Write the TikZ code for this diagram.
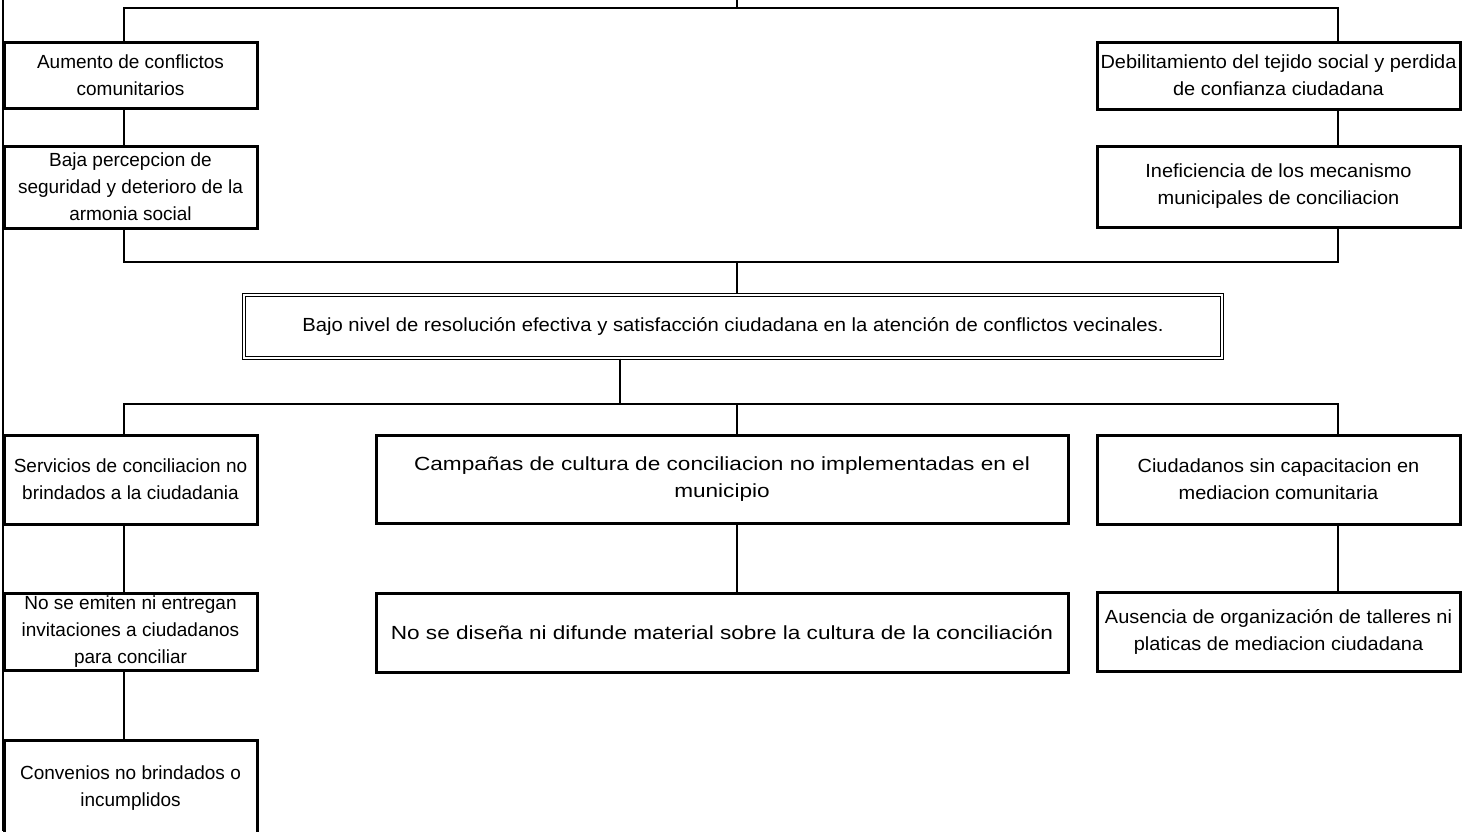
\documentclass[tikz,border=0pt]{standalone}
\usepackage{fontspec}
\setmainfont{Liberation Sans}
\newfontfamily\rightfont[FakeStretch=1.05]{Liberation Sans}
\newfontfamily\mainfont[FakeStretch=1.066]{Liberation Sans}
\newfontfamily\widefont[FakeStretch=1.19]{Liberation Sans}
\usepackage{tikz}
\usetikzlibrary{shadows,positioning}

\begin{document}
\begin{tikzpicture}[x=1pt,y=-1pt,line width=1.6pt]
            \tikzstyle{box}=[rectangle,draw,line width=3pt,fill=white,inner sep=0pt,align=center,
                drop shadow={shadow xshift=1.4pt,shadow yshift=-1.4pt,fill=black,opacity=1},
                font=\fontsize{19}{27}\selectfont]
            \tikzstyle{rbox}=[box,minimum width=363pt,font=\rightfont\fontsize{19}{27}\selectfont]
            \tikzstyle{wbox}=[box,minimum width=692pt,font=\widefont\fontsize{19}{27}\selectfont]
            \tikzstyle{problem}=[rectangle,draw,double,double distance=2pt,line width=1.3pt,fill=white,
                inner sep=0pt,align=center,font=\mainfont\fontsize{19}{27}\selectfont]
            \clip (0,0) rectangle (1472,831);
            % columns and buses
            \coordinate (colL) at (124,0);
            \coordinate (colM) at (737,0);
            \coordinate (colR) at (1338,0);
            \coordinate (top) at (737,0);
            \coordinate (busA) at (737,8);
            \coordinate (busB) at (737,262);
            \coordinate (busC) at (620,404);
            \coordinate (edgeT) at (3,0);
            \coordinate (edgeB) at (3,831);
            \draw (edgeT) -- (edgeB);
            % effects
            \node[box,minimum width=253pt,minimum height=66pt](aum) at (130.5,75)
                {Aumento de conflictos\\comunitarios};
            \node[box,minimum width=253pt,minimum height=82pt](baja) at (130.5,187)
                {Baja percepcion de\\seguridad y deterioro de la\\armonia social};
            \node[rbox,minimum height=67pt](debil) at (1278.5,75.5)
                {Debilitamiento del tejido social y perdida\\de confianza ciudadana};
            \node[rbox,minimum height=81pt](inef) at (1278.5,186.5)
                {Ineficiencia de los mecanismo\\municipales de conciliacion};
            % central problem
            \node[problem,minimum width=978pt,minimum height=63pt](central) at (733,326.5)
                {Bajo nivel de resolución efectiva y satisfacción ciudadana en la atención de conflictos vecinales.};
            % causes
            \node[box,minimum width=253pt,minimum height=89pt](serv) at (130.5,479.5)
                {Servicios de conciliacion no\\brindados a la ciudadania};
            \node[wbox,minimum height=88pt](camp) at (722,479)
                {Campañas de cultura de conciliacion no implementadas en el\\municipio};
            \node[rbox,minimum height=89pt](ciud) at (1278.5,479.5)
                {Ciudadanos sin capacitacion en\\mediacion comunitaria};
            \node[box,minimum width=253pt,minimum height=77pt](emit) at (130.5,632)
                {No se emiten ni entregan\\invitaciones a ciudadanos\\para conciliar};
            \node[wbox,minimum height=79pt](disen) at (722,632.5)
                {No se diseña ni difunde material sobre la cultura de la conciliación};
            \node[rbox,minimum height=79pt](ausen) at (1278.5,631.5)
                {Ausencia de organización de talleres ni\\platicas de mediacion ciudadana};
            \node[box,minimum width=253pt,minimum height=96pt](conv) at (130.5,788)
                {Convenios no brindados o\\incumplidos};
            % connectors
            \draw (top) -- (busA);
            \draw (colL |- aum.north) |- (busA) -| (colR |- debil.north);
            \draw (colL |- aum.south) -- (colL |- baja.north);
            \draw (colR |- debil.south) -- (colR |- inef.north);
            \draw (colL |- baja.south) |- (busB) -| (colR |- inef.south);
            \draw (busB) -- (busB |- central.north);
            \draw (busC |- central.south) -- (busC);
            \draw (colL |- serv.north) |- (busC) -| (colR |- ciud.north);
            \draw (colM |- busC) -- (colM |- camp.north);
            \draw (colL |- serv.south) -- (colL |- emit.north);
            \draw (colM |- camp.south) -- (colM |- disen.north);
            \draw (colR |- ciud.south) -- (colR |- ausen.north);
            \draw (colL |- emit.south) -- (colL |- conv.north);
\end{tikzpicture}
\end{document}
